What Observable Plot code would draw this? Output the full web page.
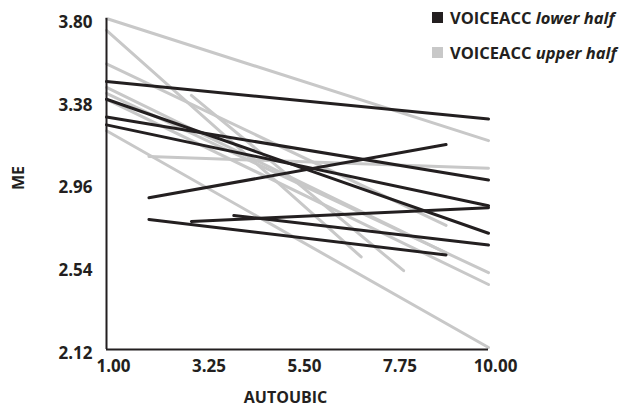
<!DOCTYPE html>
<html><head><meta charset="utf-8">
<script src="https://cdn.jsdelivr.net/npm/d3@7"></script>
<script src="https://cdn.jsdelivr.net/npm/@observablehq/plot@0.6"></script>
<style>
body{margin:0;background:#fff;font-family:"Open Sans",sans-serif;}
#wrap{position:relative;width:623px;height:407px;}
.leg{position:absolute;left:432px;font-weight:700;font-size:16.5px;color:#231f20;display:flex;align-items:center;white-space:nowrap;height:20px}
.sw{width:11px;height:11px;display:inline-block;margin-right:7px}
</style></head><body><div id="wrap"></div>
<script>
// VOICEACC lower half (black)
const lowerStartX = [1, 1, 1, 1, 2, 2, 3, 4];
const lowerEndX   = [10, 10, 10, 10, 9, 9, 10, 10];
const lowerStartY = [3.48, 3.39, 3.30, 3.26, 2.89, 2.78, 2.77, 2.80];
const lowerEndY   = [3.29, 2.71, 2.98, 2.85, 3.16, 2.60, 2.84, 2.65];
// VOICEACC upper half (gray)
const upperStartX = [1, 1, 1, 1, 1, 1, 3, 2, 1];
const upperEndX   = [10, 7, 9, 9, 10, 10, 8, 10, 10];
const upperStartY = [3.80, 3.74, 3.57, 3.45, 3.42, 3.39, 3.41, 3.10, 3.23];
const upperEndY   = [3.18, 2.59, 2.75, 2.61, 2.51, 2.45, 2.52, 3.04, 2.13];

const xTicks = [1, 3.25, 5.5, 7.75, 10];
const yTicks = [2.12, 2.54, 2.96, 3.38, 3.80];
const legendLabels = [["VOICEACC ", "lower half"], ["VOICEACC ", "upper half"]];
const colors = ["#231f20", "#c8c8c8"];

function rows(sx, ex, sy, ey) {
  const out = [];
  sx.forEach((_, i) => {
    out.push({id: i, x: sx[i], y: sy[i]});
    out.push({id: i, x: ex[i], y: ey[i]});
  });
  return out;
}
const lowerRows = rows(lowerStartX, lowerEndX, lowerStartY, lowerEndY);
const upperRows = rows(upperStartX, upperEndX, upperStartY, upperEndY);

const chart = Plot.plot({
  width: 623, height: 407,
  marginLeft: 106, marginTop: 18, marginRight: 135, marginBottom: 58,
  x: {domain: [1, 10]},
  y: {domain: [2.12, 3.80]},
  style: {fontFamily: "Open Sans", fontSize: "17px", fontWeight: 700, color: "#231f20", background: "#fff"},
  marks: [
    Plot.axisX({ticks: xTicks, tickSize: 0, tickPadding: 10, dx: 7, tickFormat: d => d.toFixed(2), label: null}),
    Plot.axisY({ticks: yTicks, tickSize: 0, tickPadding: 14, dy: 4, tickFormat: d => d.toFixed(2), label: null}),
    Plot.line(upperRows, {x: "x", y: "y", z: "id", stroke: colors[1], strokeWidth: 3}),
    Plot.line(lowerRows, {x: "x", y: "y", z: "id", stroke: colors[0], strokeWidth: 3}),
    Plot.ruleX([1], {stroke: "#231f20", strokeWidth: 2}),
    Plot.ruleY([2.12], {stroke: "#231f20", strokeWidth: 2}),
    Plot.text(["AUTOUBIC"], {frameAnchor: "bottom", text: d => d, dx: -12, dy: 53, fontSize: 16, fontWeight: 700, fill: "#231f20"}),
    Plot.text(["ME"], {frameAnchor: "left", text: d => d, rotate: -90, dx: -88, dy: 6, fontSize: 16, fontWeight: 700, fill: "#231f20"})
  ]
});
const wrap = document.getElementById("wrap");
wrap.appendChild(chart);
legendLabels.forEach((lab, i) => {
  const d = document.createElement("div");
  d.className = "leg";
  d.style.top = (i === 0 ? 7 : 42) + "px";
  d.innerHTML = `<span class="sw" style="background:${colors[i]}"></span><span>${lab[0]}<i>${lab[1]}</i></span>`;
  wrap.appendChild(d);
});
</script>
</body></html>
